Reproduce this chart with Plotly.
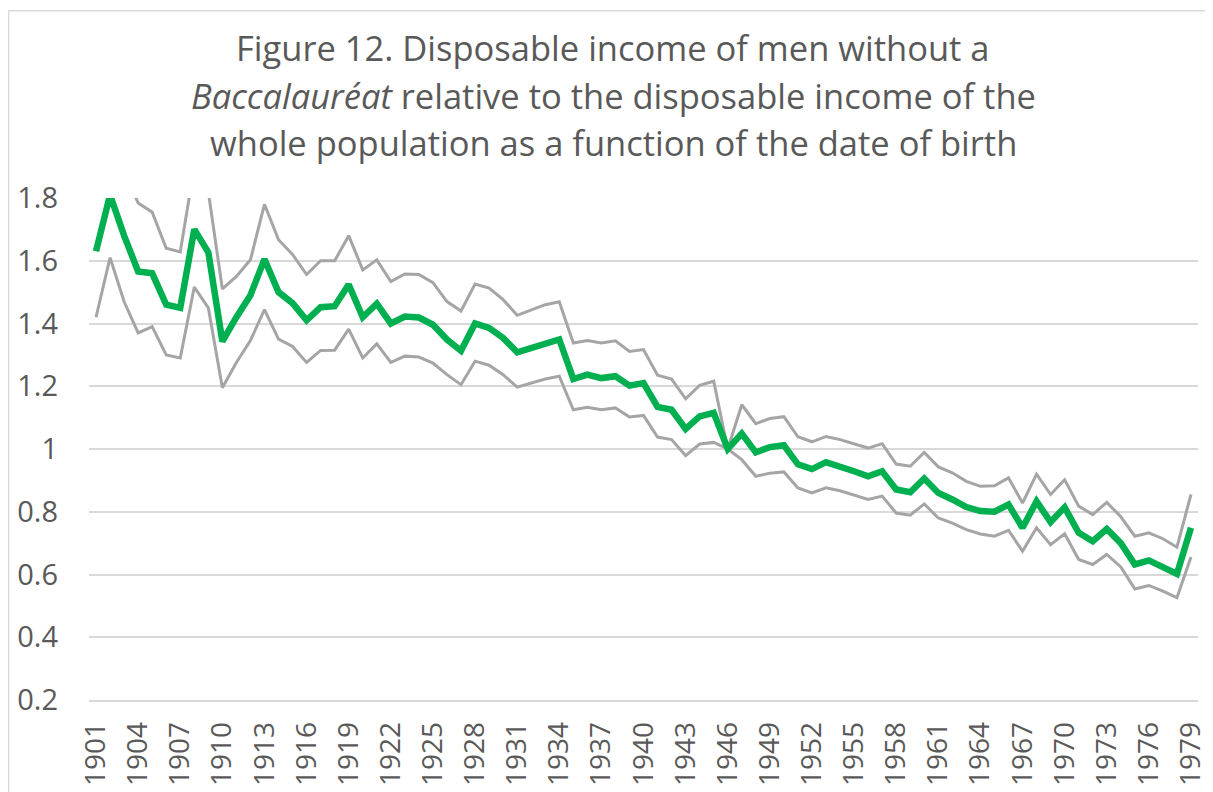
import plotly.graph_objects as go

# Birth years and the three series
years = list(range(1901, 1980))

ratio = [
    1.63, 1.81, 1.68, 1.566, 1.56, 1.46, 1.45, 1.70, 1.627, 1.343,
    1.42, 1.49, 1.605, 1.50, 1.465, 1.41, 1.452, 1.455, 1.524, 1.42,
    1.463, 1.40, 1.422, 1.419, 1.396, 1.349, 1.313, 1.40, 1.386, 1.354,
    1.308, 1.322, 1.338, 1.349, 1.223, 1.237, 1.226, 1.232, 1.202, 1.21,
    1.134, 1.125, 1.064, 1.104, 1.115, 1.0, 1.049, 0.989, 1.006, 1.012,
    0.951, 0.936, 0.958, 0.945, 0.929, 0.913, 0.929, 0.871, 0.862, 0.906,
    0.86, 0.839, 0.815, 0.802, 0.80, 0.823, 0.749, 0.833, 0.767, 0.814,
    0.733, 0.706, 0.745, 0.70, 0.632, 0.645, 0.624, 0.602, 0.749,
]

upper = [
    1.86, 2.0, 1.89, 1.784, 1.755, 1.64, 1.628, 1.90, 1.82, 1.51,
    1.55, 1.603, 1.78, 1.667, 1.62, 1.556, 1.60, 1.60, 1.68, 1.571,
    1.603, 1.534, 1.558, 1.556, 1.53, 1.47, 1.44, 1.526, 1.513, 1.476,
    1.426, 1.442, 1.46, 1.469, 1.338, 1.346, 1.338, 1.345, 1.311, 1.317,
    1.235, 1.223, 1.16, 1.203, 1.216, 1.0, 1.141, 1.081, 1.097, 1.103,
    1.039, 1.023, 1.04, 1.03, 1.016, 1.003, 1.017, 0.952, 0.945, 0.989,
    0.943, 0.924, 0.897, 0.881, 0.883, 0.908, 0.828, 0.92, 0.855, 0.902,
    0.818, 0.791, 0.83, 0.784, 0.722, 0.733, 0.714, 0.687, 0.855,
]

lower = [
    1.42, 1.61, 1.47, 1.37, 1.39, 1.30, 1.29, 1.516, 1.45, 1.195,
    1.276, 1.346, 1.444, 1.35, 1.327, 1.276, 1.314, 1.315, 1.382, 1.29,
    1.335, 1.276, 1.296, 1.293, 1.274, 1.237, 1.205, 1.28, 1.267, 1.237,
    1.197, 1.21, 1.223, 1.232, 1.125, 1.133, 1.125, 1.131, 1.102, 1.107,
    1.038, 1.03, 0.979, 1.016, 1.021, 1.0, 0.966, 0.913, 0.923, 0.927,
    0.876, 0.86, 0.876, 0.867, 0.853, 0.839, 0.85, 0.796, 0.789, 0.825,
    0.78, 0.764, 0.743, 0.729, 0.722, 0.741, 0.674, 0.749, 0.695, 0.73,
    0.648, 0.632, 0.664, 0.624, 0.554, 0.565, 0.547, 0.526, 0.656,
]

x_ticks = list(range(1901, 1980, 3))
y_ticks = [0.2, 0.4, 0.6, 0.8, 1.0, 1.2, 1.4, 1.6, 1.8]
y_labels = ["0.2", "0.4", "0.6", "0.8", "1", "1.2", "1.4", "1.6", "1.8"]

title_lines = [
    "Figure 12. Disposable income of men without a",
    "<i>Baccalauréat</i> relative to the disposable income of the",
    "whole population as a function of the date of birth",
]

TEXT = "#595959"
GRID = "#d9d9d9"
FONT = "Open Sans"

fig = go.Figure()
fig.add_trace(go.Scatter(x=years, y=upper, mode="lines",
                         line=dict(color="#a5a5a5", width=3), name="upper"))
fig.add_trace(go.Scatter(x=years, y=lower, mode="lines",
                         line=dict(color="#a5a5a5", width=3), name="lower"))
fig.add_trace(go.Scatter(x=years, y=ratio, mode="lines",
                         line=dict(color="#00b050", width=6.5), name="ratio"))

# page body adds 8px, so the plot area lands at 89..1198 x 198..700 on screen
def py(px):
    return (700.3 - px) / 502.0

for line, ypix in zip(title_lines, [48, 96, 143]):
    fig.add_annotation(text=line, xref="paper", yref="paper", x=0.4725, y=py(ypix),
                       xanchor="center", yanchor="middle", showarrow=False,
                       font=dict(family=FONT, size=34.5, color=TEXT))

# chart-area border (left and top edges visible in the picture)
fig.add_shape(type="line", xref="paper", yref="paper",
              x0=-0.0725, x1=-0.0725, y0=py(11), y1=py(800),
              line=dict(color=GRID, width=1.5))
fig.add_shape(type="line", xref="paper", yref="paper",
              x0=-0.0725, x1=1.1, y0=py(11), y1=py(11),
              line=dict(color=GRID, width=1.5))

fig.update_layout(
    width=1205, height=784,
    margin=dict(l=81, r=15, t=190, b=92),
    paper_bgcolor="white", plot_bgcolor="white",
    showlegend=False,
)

fig.update_xaxes(
    range=[1900.5, 1979.5], automargin=False,
    tickvals=x_ticks, ticktext=[str(v) for v in x_ticks],
    tickangle=-90, showgrid=False,
    showline=True, linecolor=GRID, linewidth=1.5,
    ticks="", ticklabelstandoff=9,
    tickfont=dict(family=FONT, size=28, color=TEXT),
)

fig.update_yaxes(
    range=[0.2, 1.8], automargin=False,
    tickvals=y_ticks, ticktext=y_labels,
    showgrid=True, gridcolor=GRID, gridwidth=1.5,
    zeroline=False, ticks="", ticklabelstandoff=30,
    tickfont=dict(family=FONT, size=29, color=TEXT),
)

fig.write_html("out.html")
